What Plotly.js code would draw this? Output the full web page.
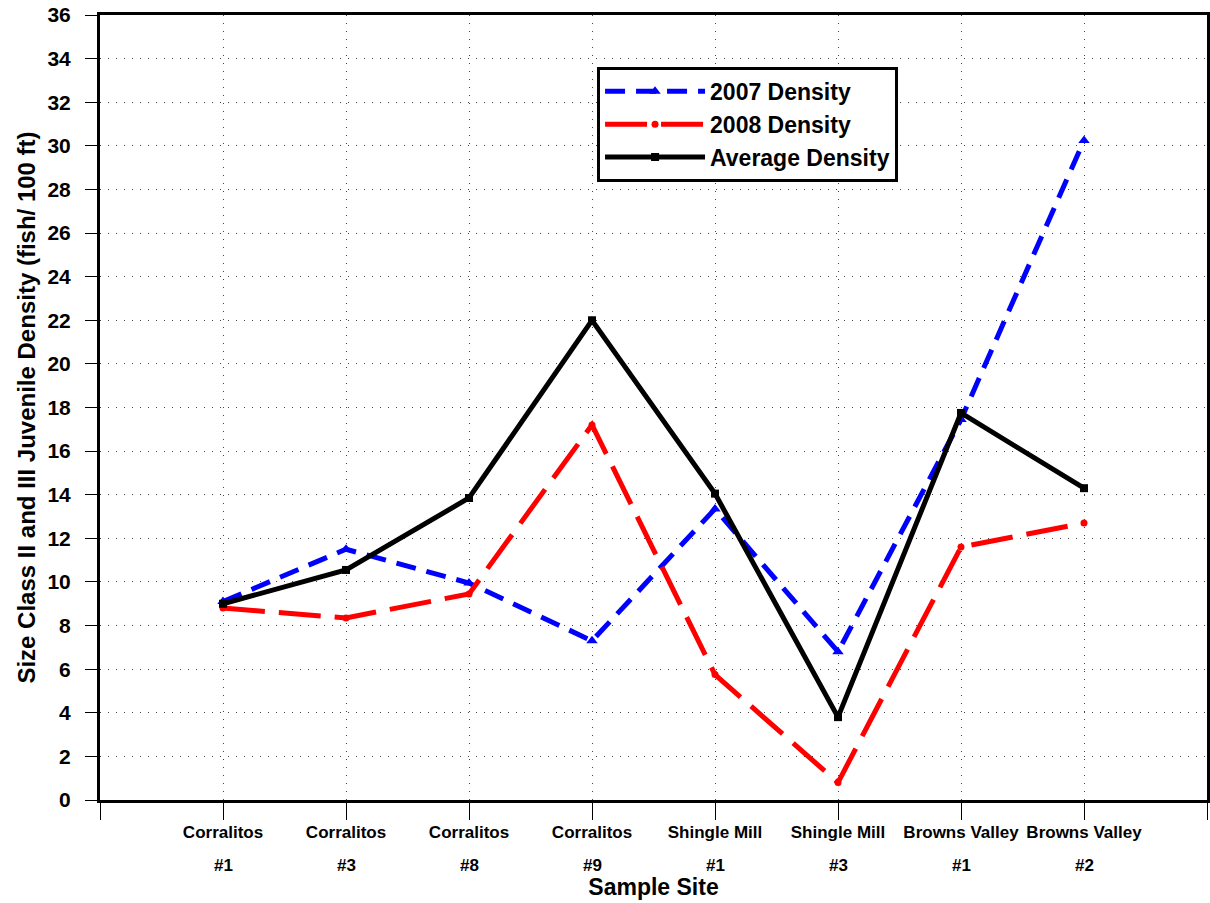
<!DOCTYPE html>
<html>
<head>
<meta charset="utf-8">
<script src="https://cdn.plot.ly/plotly-3.0.1.min.js"></script>
<style>html,body{margin:0;padding:0;background:#fff;}#chart{width:1210px;height:903px;}</style>
</head>
<body>
<div id="chart"></div>
<script>
const sites = ['Corralitos','Corralitos','Corralitos','Corralitos','Shingle Mill','Shingle Mill','Browns Valley','Browns Valley'];
const siteNums = ['#1','#3','#8','#9','#1','#3','#1','#2'];
const density2007 = [9.1, 11.5, 9.95, 7.3, 13.35, 6.8, 17.45, 30.25];
const density2008 = [8.8, 8.35, 9.45, 17.2, 5.75, 0.8, 11.6, 12.7];
const densityAvg = [9.0, 10.55, 13.85, 22.0, 14.05, 3.8, 17.75, 14.3];
const yTicks = [0,2,4,6,8,10,12,14,16,18,20,22,24,26,28,30,32,34,36];

const pos = sites.map((s, i) => i);
const tickVals = [-1].concat(pos, [sites.length]);
const tickText = [''].concat(sites, ['']);

const FONT = 'Arial, "Liberation Sans", sans-serif';

const traces = [
  {x: pos, y: density2007, name: '2007 Density', mode: 'lines+markers',
   line: {color: '#0000ff', width: 5, dash: '20px,11px'},
   marker: {symbol: 'triangle-up', size: 10, color: '#0000ff'}},
  {x: pos, y: density2008, name: '2008 Density', mode: 'lines+markers',
   line: {color: '#ff0000', width: 5, dash: '42px,14px'},
   marker: {symbol: 'circle', size: 7, color: '#ff0000'}},
  {x: pos, y: densityAvg, name: 'Average Density', mode: 'lines+markers',
   line: {color: '#000000', width: 5},
   marker: {symbol: 'square', size: 8, color: '#000000'}}
];

const numAnnotations = siteNums.map((t, i) => ({
  x: pos[i], xref: 'x', y: 0, yref: 'paper', yanchor: 'middle', yshift: -65,
  text: t, showarrow: false,
  font: {family: FONT, size: 17, color: '#000', weight: 'bold'}
}));

const layout = {
  width: 1210, height: 903,
  margin: {l: 100, r: 3, t: 15, b: 103},
  paper_bgcolor: '#fff', plot_bgcolor: '#fff',
  showlegend: true,
  font: {family: FONT, color: '#000'},
  annotations: numAnnotations,
  xaxis: {
    range: [-1, sites.length], tickmode: 'array', tickvals: tickVals, ticktext: tickText,
    showline: true, linecolor: '#000', linewidth: 3, mirror: true,
    ticks: 'outside', ticklen: 17, tickwidth: 1, tickcolor: '#000',
    ticklabelstandoff: -2,
    showgrid: true, gridcolor: '#444', gridwidth: 1, griddash: '1px,7px',
    zeroline: false,
    tickfont: {family: FONT, size: 17, color: '#000', weight: 'bold'},
    title: {text: '<b>Sample Site</b>', font: {family: FONT, size: 23, color: '#000'}, standoff: 38}
  },
  yaxis: {
    range: [0, 36], tickmode: 'array', tickvals: yTicks,
    showline: true, linecolor: '#000', linewidth: 3, mirror: true,
    ticks: 'outside', ticklen: 12, tickwidth: 1, tickcolor: '#000',
    ticklabelstandoff: 10,
    showgrid: true, gridcolor: '#444', gridwidth: 1, griddash: '1px,7px',
    zeroline: false,
    tickfont: {family: FONT, size: 21, color: '#000', weight: 'bold'},
    title: {text: '<b>Size Class II and III Juvenile Density (fish/ 100 ft)</b>', font: {family: FONT, size: 24, color: '#000'}, standoff: 6}
  },
  legend: {
    x: 0.449, y: 0.934, xanchor: 'left', yanchor: 'top',
    bgcolor: '#fff', bordercolor: '#000', borderwidth: 3,
    font: {family: FONT, size: 23, color: '#000', weight: 'bold'},
    itemwidth: 100, traceorder: 'normal'
  }
};

Plotly.newPlot('chart', traces, layout, {displayModeBar: false, staticPlot: true});
</script>
</body>
</html>
